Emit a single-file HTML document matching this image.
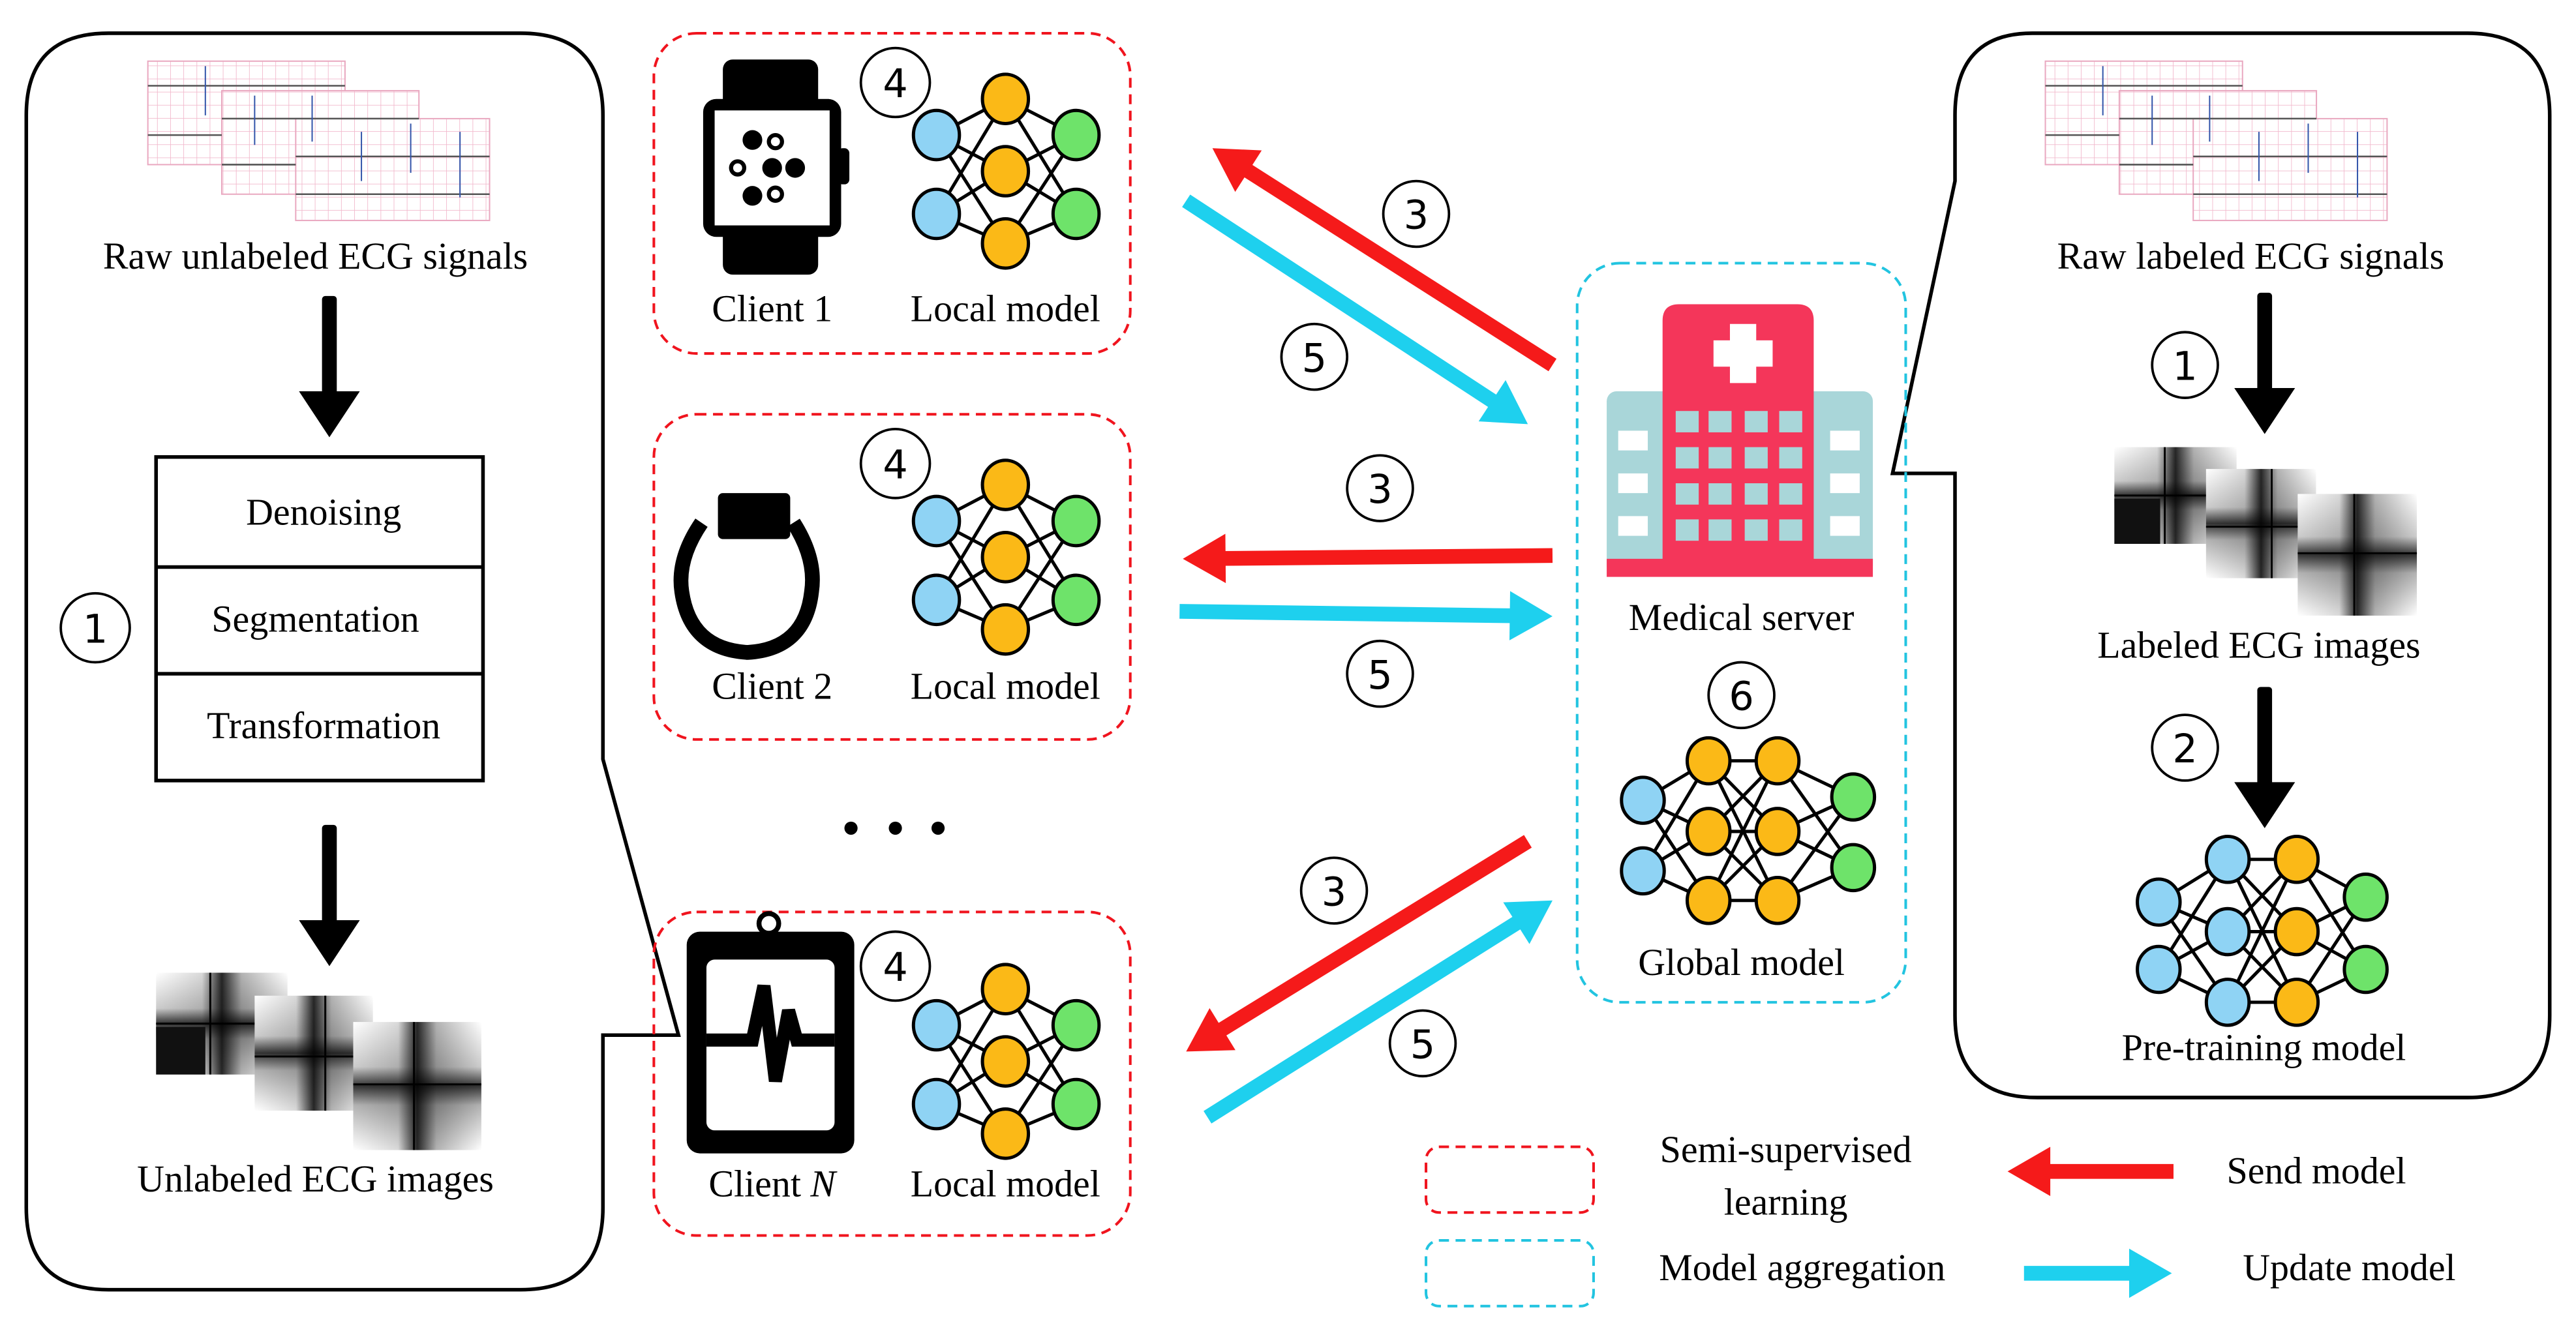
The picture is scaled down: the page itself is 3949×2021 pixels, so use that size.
<!DOCTYPE html>
<html><head><meta charset="utf-8"><style>
html,body{margin:0;padding:0;background:#fff}
svg{display:block}
text{font-family:"Liberation Serif",serif;font-size:23px;fill:#000}
.n{font-family:"DejaVu Sans","Liberation Sans",sans-serif;font-size:24px}
</style></head><body>
<svg id="s" width="3949" height="2021" viewBox="0 0 1568 802" xmlns="http://www.w3.org/2000/svg">
<defs>
<linearGradient id="gh" x1="0" x2="1"><stop offset="0" stop-color="#000" stop-opacity="0"/><stop offset=".35" stop-color="#000" stop-opacity=".15"/><stop offset=".5" stop-color="#000" stop-opacity=".85"/><stop offset=".65" stop-color="#000" stop-opacity=".3"/><stop offset="1" stop-color="#000" stop-opacity="0"/></linearGradient>
<linearGradient id="gv" x1="0" x2="0" y1="0" y2="1"><stop offset="0" stop-color="#000" stop-opacity="0"/><stop offset=".35" stop-color="#000" stop-opacity=".2"/><stop offset=".5" stop-color="#000" stop-opacity=".8"/><stop offset=".65" stop-color="#000" stop-opacity=".3"/><stop offset="1" stop-color="#000" stop-opacity="0"/></linearGradient>
<pattern id="grid" width="8" height="8" patternUnits="userSpaceOnUse"><rect width="8" height="8" fill="#fff"/><path d="M8 0V8H0" fill="none" stroke="#f2b8cc" stroke-width=".7"/></pattern>
</defs>
<g fill="none" stroke="#000" stroke-width="2.2">
<path d="M66 20 H317 Q367 20 367 70 V462 L413 630 H367 V735 Q367 785 317 785 H66 Q16 785 16 735 V70 Q16 20 66 20 Z"/>
<path d="M1237 20 H1502 Q1552 20 1552 70 V618 Q1552 668 1502 668 H1240 Q1190 668 1190 618 V288 H1152 L1190 110 V70 Q1190 20 1237 20 Z"/>
</g>
<!-- ECG signals left -->
<g id="ecgs" stroke="#e9a8c0" stroke-width=".8">
<rect x="90" y="37" width="120" height="63" fill="url(#grid)"/>
<rect x="135" y="55" width="120" height="63" fill="url(#grid)"/>
<rect x="180" y="72" width="118" height="62" fill="url(#grid)"/>
<path d="M90 52 h120 M135 72 h120 M90 82 h45 M135 100 h45 M180 95 h118 M180 118 h118" stroke="#555" stroke-width="1"/>
<path d="M125 40v30 M155 58v30 M190 58v28 M220 80v30 M250 75v30 M280 80v40" stroke="#3355aa" stroke-width=".8"/>
</g>
<use href="#ecgs" x="1155" y="0"/>
<text x="192" y="158" text-anchor="middle" dominant-baseline="middle">Raw unlabeled ECG signals</text>
<g id="arr"><rect x="196" y="180" width="9" height="60" fill="#000" rx="2"/><path d="M182 238 H219 L200.5 266 Z" fill="#000"/></g>
<use href="#arr" y="322"/>
<use href="#arr" x="1178" y="-2"/>
<use href="#arr" x="1178" y="238"/>
<g fill="none" stroke="#000" stroke-width="2.2"><rect x="95" y="278" width="199" height="197"/><path d="M95 345H294M95 410H294"/></g>
<text x="197" y="314" text-anchor="middle" dominant-baseline="middle">Denoising</text>
<text x="192" y="379" text-anchor="middle" dominant-baseline="middle">Segmentation</text>
<text x="197" y="444" text-anchor="middle" dominant-baseline="middle">Transformation</text>
<!-- ECG images -->
<g id="eimg">
<g><rect x="95" y="592" width="80" height="62" fill="#fff"/><rect x="95" y="592" width="80" height="62" fill="url(#gh)"/><rect x="95" y="592" width="80" height="62" fill="url(#gv)"/><path d="M95 623H175M128 592V654" stroke="#000" stroke-width="1.2"/><rect x="95" y="625" width="30" height="29" fill="#111"/></g>
<g><rect x="155" y="606" width="72" height="70" fill="#fff"/><rect x="155" y="606" width="72" height="70" fill="url(#gh)"/><rect x="155" y="606" width="72" height="70" fill="url(#gv)"/><path d="M155 643H227M198 606V676" stroke="#000" stroke-width="1.2"/></g>
<g><rect x="215" y="622" width="78" height="78" fill="#fff"/><rect x="215" y="622" width="78" height="78" fill="url(#gh)"/><rect x="215" y="622" width="78" height="78" fill="url(#gv)"/><path d="M215 660H293M252 622V700" stroke="#000" stroke-width="1.2"/></g>
</g>
<use href="#eimg" transform="translate(1287,272) scale(0.93,0.95) translate(-95,-592)"/>
<text x="192" y="720" text-anchor="middle" dominant-baseline="middle">Unlabeled ECG images</text>
<g fill="none" stroke="#000" stroke-width="1.5">
<circle cx="58" cy="382" r="21"/><circle cx="545" cy="50" r="21"/><circle cx="545" cy="282" r="21"/><circle cx="545" cy="588" r="21"/>
<circle cx="862" cy="130" r="20"/><circle cx="800" cy="217" r="20"/><circle cx="840" cy="297" r="20"/><circle cx="840" cy="410" r="20"/>
<circle cx="812" cy="542" r="20"/><circle cx="866" cy="635" r="20"/><circle cx="1060" cy="423" r="20"/><circle cx="1330" cy="222" r="20"/><circle cx="1330" cy="455" r="20"/>
</g>
<g class="n" text-anchor="middle">
<text class="n" x="58" y="391">1</text><text class="n" x="545" y="59">4</text><text class="n" x="545" y="291">4</text><text class="n" x="545" y="597">4</text>
<text class="n" x="862" y="139">3</text><text class="n" x="800" y="226">5</text><text class="n" x="840" y="306">3</text><text class="n" x="840" y="419">5</text>
<text class="n" x="812" y="551">3</text><text class="n" x="866" y="644">5</text><text class="n" x="1060" y="432">6</text><text class="n" x="1330" y="231">1</text><text class="n" x="1330" y="464">2</text>
</g>
<!-- client boxes -->
<g fill="none" stroke="#f0141e" stroke-width="1.6" stroke-dasharray="6 4">
<rect x="398" y="20" width="290" height="195" rx="26"/><rect x="398" y="252" width="290" height="198" rx="26"/><rect x="398" y="555" width="290" height="197" rx="26"/>
<rect x="868" y="698" width="102" height="40" rx="8"/>
</g>
<g fill="none" stroke="#22c4e0" stroke-width="1.6" stroke-dasharray="6 4">
<rect x="960" y="160" width="200" height="450" rx="26"/><rect x="868" y="755" width="102" height="40" rx="8"/>
</g>
<!-- watch -->
<rect x="440" y="36" width="58" height="30" rx="6" fill="#000"/><rect x="440" y="135" width="58" height="32" rx="6" fill="#000"/>
<rect x="428" y="60" width="84" height="84" rx="8" fill="#000"/><rect x="435" y="67" width="70" height="70" fill="#fff"/><rect x="510" y="90" width="7" height="22" rx="3" fill="#000"/>
<g fill="#000"><circle cx="458" cy="85" r="6"/><circle cx="458" cy="119" r="6"/><circle cx="470" cy="102" r="6"/><circle cx="484" cy="102" r="6"/></g>
<g fill="none" stroke="#000" stroke-width="2.5"><circle cx="472" cy="86" r="4"/><circle cx="472" cy="118" r="4"/><circle cx="449" cy="102" r="4"/></g>
<!-- band -->
<path d="M427 318 Q412 340 415 360 Q420 395 455 397 Q490 395 494 360 Q497 340 483 318" fill="none" stroke="#000" stroke-width="9"/>
<rect x="437" y="300" width="44" height="28" rx="3" fill="#000"/>
<!-- monitor -->
<circle cx="468" cy="562" r="6" fill="#fff" stroke="#000" stroke-width="3"/>
<rect x="418" y="567" width="102" height="135" rx="8" fill="#000"/><rect x="430" y="584" width="78" height="104" rx="5" fill="#fff"/>
<path d="M430 633 H458 L465 600 L472 658 L480 615 L485 633 H508" fill="none" stroke="#000" stroke-width="8" stroke-linejoin="miter"/>
<text x="470" y="190" text-anchor="middle" dominant-baseline="middle">Client 1</text>
<text x="612" y="190" text-anchor="middle" dominant-baseline="middle">Local model</text>
<text x="470" y="420" text-anchor="middle" dominant-baseline="middle">Client 2</text>
<text x="612" y="420" text-anchor="middle" dominant-baseline="middle">Local model</text>
<text x="470" y="723" text-anchor="middle" dominant-baseline="middle">Client <tspan font-style="italic">N</tspan></text>
<text x="612" y="723" text-anchor="middle" dominant-baseline="middle">Local model</text>
<g fill="#000"><circle cx="518" cy="504" r="4"/><circle cx="545" cy="504" r="4"/><circle cx="571" cy="504" r="4"/></g>
<!-- hospital -->
<rect x="978" y="238" width="162" height="112" rx="6" fill="#a9d6d9"/>
<path d="M1012 350 V195 Q1012 185 1022 185 H1094 Q1104 185 1104 195 V350 Z" fill="#f4365a"/>
<rect x="978" y="340" width="162" height="11" fill="#f4365a"/>
<path d="M1053 197h16v10h10v16h-10v10h-16v-10h-10v-16h10z" fill="#fff"/>
<g fill="#a9d6d9" id="win"><rect x="1020" y="250" width="14" height="13"/><rect x="1040" y="250" width="14" height="13"/><rect x="1062" y="250" width="14" height="13"/><rect x="1083" y="250" width="14" height="13"/></g>
<use href="#win" y="22"/><use href="#win" y="44"/><use href="#win" y="66"/>
<g fill="#fff"><rect x="985" y="262" width="18" height="12"/><rect x="985" y="288" width="18" height="12"/><rect x="985" y="314" width="18" height="12"/><rect x="1114" y="262" width="18" height="12"/><rect x="1114" y="288" width="18" height="12"/><rect x="1114" y="314" width="18" height="12"/></g>
<text x="1060" y="378" text-anchor="middle" dominant-baseline="middle">Medical server</text>
<text x="1060" y="588" text-anchor="middle" dominant-baseline="middle">Global model</text>
<text x="1370" y="158" text-anchor="middle" dominant-baseline="middle">Raw labeled ECG signals</text>
<text x="1375" y="395" text-anchor="middle" dominant-baseline="middle">Labeled ECG images</text>
<text x="1378" y="640" text-anchor="middle" dominant-baseline="middle">Pre-training model</text>
<text x="1087" y="702" text-anchor="middle" dominant-baseline="middle">Semi-supervised</text>
<text x="1087" y="734" text-anchor="middle" dominant-baseline="middle">learning</text>
<text x="1097" y="774" text-anchor="middle" dominant-baseline="middle">Model aggregation</text>
<text x="1410" y="715" text-anchor="middle" dominant-baseline="middle">Send model</text>
<text x="1430" y="774" text-anchor="middle" dominant-baseline="middle">Update model</text>
<g id="nets"></g>
<g id="arrows"></g>
</svg>
<script>
var ns="http://www.w3.org/2000/svg";
function el(p,t,a){var e=document.createElementNS(ns,t);for(var k in a)e.setAttribute(k,a[k]);p.appendChild(e);return e;}
var g=document.getElementById("nets");
var C={b:"#8fd3f4",o:"#fbb917",g:"#6ee36a"};
function net(layers,r){
 r=r||14;
 var lg=el(g,"g",{stroke:"#000","stroke-width":"2"});
 for(var i=0;i<layers.length-1;i++)layers[i].pts.forEach(function(a){layers[i+1].pts.forEach(function(b){el(lg,"line",{x1:a[0],y1:a[1],x2:b[0],y2:b[1]});});});
 layers.forEach(function(L){L.pts.forEach(function(p){el(lg,"ellipse",{cx:p[0],cy:p[1],rx:r,ry:r+1,fill:C[L.c]});});});
}
function local(dy){net([{c:"b",pts:[[570,82+dy],[570,130+dy]]},{c:"o",pts:[[612,60+dy],[612,104+dy],[612,148+dy]]},{c:"g",pts:[[655,82+dy],[655,130+dy]]}]);}
local(0);local(235);local(542);
net([{c:"b",pts:[[1000,487],[1000,530]]},{c:"o",pts:[[1040,463],[1040,506],[1040,548]]},{c:"o",pts:[[1082,463],[1082,506],[1082,548]]},{c:"g",pts:[[1128,485],[1128,528]]}],13);
net([{c:"b",pts:[[1314,549],[1314,590]]},{c:"b",pts:[[1356,523],[1356,567],[1356,610]]},{c:"o",pts:[[1398,523],[1398,567],[1398,610]]},{c:"g",pts:[[1440,546],[1440,590]]}],13);
var ag=document.getElementById("arrows");
function arrow(x1,y1,x2,y2,c){var dx=x2-x1,dy=y2-y1,L=Math.hypot(dx,dy),ux=dx/L,uy=dy/L,h=26,w=15;
 var bx=x2-ux*h,by=y2-uy*h;
 el(ag,"line",{x1:x1,y1:y1,x2:bx+ux*2,y2:by+uy*2,stroke:c,"stroke-width":9});
 el(ag,"polygon",{points:[x2,y2,bx-uy*w,by+ux*w,bx+uy*w,by-ux*w].join(" "),fill:c});}
var R="#f51a1a",B="#1ed0ee";
arrow(945,222,738,90,R);arrow(722,122,930,258,B);
arrow(945,338,720,340,R);arrow(718,372,945,375,B);
arrow(930,512,722,640,R);arrow(735,680,945,548,B);
arrow(1323,713,1222,713,R);arrow(1232,775,1322,775,B);
</script>
</body></html>
